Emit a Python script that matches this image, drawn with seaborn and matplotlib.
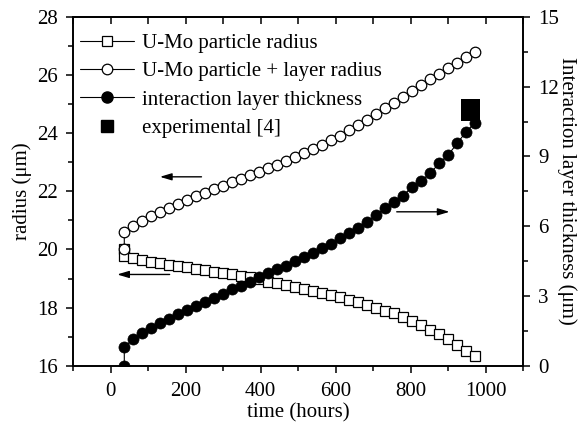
import matplotlib
matplotlib.use("Agg")
import matplotlib.pyplot as plt
import seaborn as sns
from matplotlib.ticker import MultipleLocator
from matplotlib.lines import Line2D

# ---------------- data ----------------
time_hours = [36, 36, 60, 84, 108, 132, 156, 180, 204, 228, 252, 276, 300, 324,
              348, 372, 396, 420, 444, 468, 492, 516, 540, 564, 588, 612, 636,
              660, 684, 708, 732, 756, 780, 804, 828, 852, 876, 900, 924, 948, 972]

particle_radius = [20.00, 19.78, 19.70, 19.64, 19.58, 19.52, 19.46, 19.43, 19.39,
                   19.34, 19.29, 19.23, 19.20, 19.15, 19.09, 19.04, 18.98, 18.89,
                   18.84, 18.78, 18.72, 18.64, 18.57, 18.49, 18.43, 18.35, 18.26,
                   18.18, 18.09, 18.00, 17.89, 17.80, 17.69, 17.54, 17.40, 17.23,
                   17.09, 16.91, 16.71, 16.52, 16.33]

particle_layer_radius = [20.02, 20.59, 20.81, 20.99, 21.15, 21.30, 21.44, 21.58,
                         21.71, 21.84, 21.96, 22.08, 22.20, 22.32, 22.44, 22.56,
                         22.68, 22.80, 22.92, 23.04, 23.17, 23.31, 23.45, 23.60,
                         23.76, 23.92, 24.10, 24.28, 24.47, 24.66, 24.86, 25.05,
                         25.25, 25.45, 25.65, 25.86, 26.05, 26.24, 26.43, 26.61, 26.78]

layer_thickness = [0.00, 0.82, 1.13, 1.39, 1.61, 1.82, 2.01, 2.21, 2.40, 2.58, 2.75,
                   2.93, 3.10, 3.28, 3.45, 3.62, 3.80, 3.97, 4.14, 4.31, 4.49, 4.67,
                   4.85, 5.05, 5.25, 5.48, 5.72, 5.94, 6.20, 6.48, 6.77, 7.03, 7.32,
                   7.68, 7.95, 8.27, 8.70, 9.06, 9.56, 10.06, 10.45]

exp_hours = [950, 970, 950, 970]
exp_thickness = [11.2, 11.2, 10.8, 10.8]

labels = ["U-Mo particle radius", "U-Mo particle + layer radius",
          "interaction layer thickness", "experimental [4]"]

# ---------------- style ----------------
sns.set_theme(style="ticks")
plt.rcParams["font.family"] = ["Liberation Serif", "DejaVu Serif"]
plt.rcParams["axes.linewidth"] = 1.2
plt.rcParams["text.color"] = "black"
plt.rcParams["axes.labelcolor"] = "black"
plt.rcParams["xtick.color"] = "black"
plt.rcParams["ytick.color"] = "black"
FS = 15

SQ_MS = 7.6
OC_MS = 7.6
BC_MS = 8.0

fig = plt.figure(figsize=(5.88, 4.30), dpi=100)
ax = fig.add_axes([0.1247, 0.1495, 0.7648, 0.8110])
ax2 = ax.twinx()

sns.lineplot(x=time_hours, y=particle_radius, ax=ax, estimator=None, sort=False,
             color="black", lw=0.8, marker="s", markersize=SQ_MS,
             markerfacecolor="white", markeredgecolor="black",
             markeredgewidth=0.9, legend=False)
sns.lineplot(x=time_hours, y=particle_layer_radius, ax=ax, estimator=None, sort=False,
             color="black", lw=0.8, marker="o", markersize=OC_MS,
             markerfacecolor="white", markeredgecolor="black",
             markeredgewidth=0.9, legend=False)
sns.lineplot(x=time_hours, y=layer_thickness, ax=ax2, estimator=None, sort=False,
             color="black", lw=0.8, marker="o", markersize=BC_MS,
             markerfacecolor="black", markeredgecolor="black",
             markeredgewidth=0.5, legend=False)
sns.scatterplot(x=exp_hours, y=exp_thickness, ax=ax2, marker="s", s=64,
                color="black", edgecolor="black", linewidth=0, legend=False)

# axes limits & ticks
ax.set_xlim(-100, 1100)
ax.set_ylim(16, 28)
ax2.set_ylim(0, 15)
ax.xaxis.set_major_locator(MultipleLocator(200))
ax.xaxis.set_minor_locator(MultipleLocator(100))
ax.yaxis.set_major_locator(MultipleLocator(2))
ax.yaxis.set_minor_locator(MultipleLocator(1))
ax2.yaxis.set_major_locator(MultipleLocator(3))
ax2.yaxis.set_minor_locator(MultipleLocator(1.5))

ax.tick_params(which="major", direction="out", length=5, width=1.1,
               labelsize=FS, pad=6, colors="black")
ax.tick_params(which="minor", direction="out", length=3.5, width=1.1)
ax.tick_params(axis="x", which="major", pad=7)
ax2.tick_params(which="major", direction="out", length=5, width=1.1,
                labelsize=FS, pad=6, colors="black")
ax2.tick_params(which="minor", direction="out", length=3.5, width=1.1)

secax = ax.secondary_xaxis("top")
secax.xaxis.set_major_locator(MultipleLocator(200))
secax.xaxis.set_minor_locator(MultipleLocator(100))
secax.tick_params(which="both", direction="in", length=5, width=1.1, labeltop=False)
secax.spines["top"].set_linewidth(1.2)

for a in (ax, ax2):
    for s in a.spines.values():
        s.set_color("black")
        s.set_linewidth(1.2)

ax.set_xlabel("time (hours)", fontsize=FS, labelpad=1, color="black")
ax.set_ylabel("radius (μm)", fontsize=FS, labelpad=4, color="black")
ax2.set_ylabel("Interaction layer thickness (μm)", fontsize=FS, rotation=270,
               labelpad=13, color="black")

# direction arrows
arrow = dict(arrowstyle="-|>,head_length=0.5,head_width=0.15", color="black",
             lw=1.0, shrinkA=0, shrinkB=0, mutation_scale=14)
ax.annotate("", xy=(131, 22.50), xytext=(242, 22.50), arrowprops=arrow)
ax.annotate("", xy=(17, 19.14), xytext=(157, 19.14), arrowprops=arrow)
ax2.annotate("", xy=(904, 6.62), xytext=(763, 6.62), arrowprops=arrow)

# legend
handles = [
    Line2D([], [], color="black", lw=0.8, marker="s", markersize=SQ_MS,
           markerfacecolor="white", markeredgecolor="black", markeredgewidth=0.9),
    Line2D([], [], color="black", lw=0.8, marker="o", markersize=OC_MS,
           markerfacecolor="white", markeredgecolor="black", markeredgewidth=0.9),
    Line2D([], [], color="black", lw=0.8, marker="o", markersize=BC_MS,
           markerfacecolor="black", markeredgecolor="black"),
    Line2D([], [], color="black", lw=0, marker="s", markersize=8,
           markerfacecolor="black", markeredgecolor="black"),
]
leg = ax2.legend(handles, labels, loc="upper left", bbox_to_anchor=(0.0056, 0.965),
                 borderaxespad=0, borderpad=0.2, frameon=False, fontsize=FS,
                 handlelength=2.6, handletextpad=0.38, labelspacing=0.42)
for t in leg.get_texts():
    t.set_color("black")

fig.savefig("out.png", dpi=100)
